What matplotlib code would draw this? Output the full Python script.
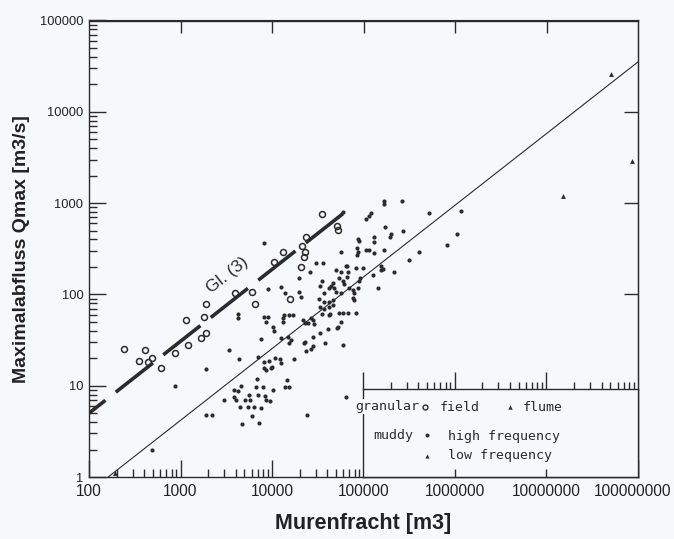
import matplotlib
matplotlib.use("Agg")
import matplotlib.pyplot as plt
import matplotlib.transforms as mtransforms
from matplotlib.ticker import FixedLocator, NullFormatter, FuncFormatter, LogLocator, NullLocator

plt.rcParams['lines.scale_dashes'] = False

# ---------------- data ----------------
field_x = [242, 411, 353, 444, 491, 616, 877, 1158, 1218, 1692, 1824, 1919, 1919,
           3981, 6120, 6600, 15600, 20600, 10400, 13070, 21100, 22800, 22200, 23400,
           35000, 52400, 51000]
field_y = [25, 24.4, 18.5, 18, 20, 15.5, 23, 53, 27.7, 33, 56, 37.5, 78,
           103, 105, 78, 90, 202, 229, 288, 343, 288, 254, 430,
           768, 513, 568]

flume_x = [5.03e7, 8.55e7, 1.53e7]
flume_y = [26000, 2912, 1208]

low_x = [190]
low_y = [1.1]

high_x = [491, 877, 1920, 1920, 2230, 3020, 3430, 4410, 3890, 4200, 3890, 4000, 4640,
          5010, 5680, 4500, 5400, 6280, 7500, 6000, 4750, 7130, 5540, 6950, 8300, 6610,
          7890, 6780, 8510, 9420, 10160, 6950, 8090, 9180, 8090, 8510, 9660, 10690,
          12110, 12420, 7500, 8090, 8950, 8510, 10160, 10420, 13070, 15210, 16830, 13070,
          12420, 14830, 16000, 15210, 17260, 14460, 13750, 15210, 22200, 23350, 26490,
          27870, 27870, 23950, 24560, 27870, 28580, 22770, 33260, 40700, 51050, 41760,
          53700, 59400, 67380, 82450, 37730, 59400, 33260, 41760, 46150, 64070, 4200,
          4200, 8950, 8090, 9910, 19590, 20500, 19590, 21670, 26490, 25830, 30060, 35870,
          34980, 12420, 13750, 56480, 59400, 49780, 56480, 64070, 67380, 82450, 98500,
          155200, 155200, 126600, 215400, 91200, 88930, 53700, 59400, 60920, 69100,
          43910, 46150, 47330, 33260, 36790, 32430, 49780, 56480, 76440, 78400, 78400,
          86720, 143800, 36790, 41760, 46150, 36790, 34980, 42820, 13400, 56480, 22770,
          52360, 76440, 167400, 167400, 263600, 521300, 1169000, 106100, 120400, 114500,
          171700, 270300, 199700, 194700, 129900, 129900, 86720, 88930, 84560, 86720,
          84560, 106100, 114500, 129900, 167400, 404900, 314700, 820700, 1057000, 65700,
          163200, 65700, 41760]
high_y = [2.0, 9.9, 15.1, 4.8, 4.8, 6.9, 24.4, 19.5, 8.9, 8.7, 7.5, 6.9, 9.9,
          6.9, 6.9, 5.8, 5.8, 5.8, 5.7, 4.6, 3.8, 3.9, 7.9, 7.9, 7.7, 9.6,
          9.6, 11.8, 6.9, 6.8, 8.9, 20.5, 18.1, 18.5, 15.5, 14.8, 15.5, 20.0,
          19.5, 17.6, 32.2, 56.1, 56.1, 49.4, 43.6, 39.4, 54.7, 58.9, 58.9, 49.4,
          33.0, 33.9, 31.4, 29.1, 19.5, 11.5, 9.6, 9.6, 29.1, 23.8, 25.1,
          27.0, 33.9, 4.8, 48.2, 52.0, 47.0, 48.2, 37.5, 41.4, 42.5, 58.9,
          62.0, 62.0, 62.0, 62.0, 29.1, 27.7, 72.1, 72.1, 86.0, 7.5, 60.4,
          54.7, 116, 361, 15.9, 105, 92.7, 150, 52.0, 54.7, 174, 218, 218,
          139, 122, 103, 295, 807, 183, 174, 207, 174, 197, 197,
          207, 183, 165, 178, 150, 139, 150, 139, 129, 119,
          125, 132, 119, 125, 103, 88.2, 105, 103, 111, 103, 86.0,
          119, 119, 81.8, 81.8, 75.8, 68.6, 60.4, 60.4, 58.9, 49.4, 29.9,
          43.6, 90.4, 1065, 988, 1065, 787, 828, 677, 787, 730,
          554, 489, 464, 420, 420, 379, 409, 389, 326, 288,
          267, 310, 303, 281, 303, 288, 241, 352, 464, 207,
          192, 155, 119]

# equation lines
muddy_line_x = [162, 1e8]
muddy_line_y = [1, 35200]
gl3_x = [100, 60000]
gl3_y = [5.0, 770]

x_ticks = [1e2, 1e3, 1e4, 1e5, 1e6, 1e7, 1e8]
x_ticklabels = ["100", "1000", "10000", "100000", "1000000", "10000000", "100000000"]
y_ticks = [1, 10, 100, 1000, 10000, 100000]
y_ticklabels = ["1", "10", "100", "1000", "10000", "100000"]

# ---------------- style ----------------
BG = '#f6f9fc'
INK = '#2b2b2b'
W, H = 674, 539

fig = plt.figure(figsize=(W / 100, H / 100), dpi=100, facecolor=BG)
L, R, T, B = 89, 638, 20.5, 477
ax = fig.add_axes([L / W, (H - B) / H, (R - L) / W, (B - T) / H])
ax.set_facecolor(BG)
ax.set_xscale('log')
ax.set_yscale('log')
ax.set_xlim(1e2, 1e8)
ax.set_ylim(1, 1e5)
for s in ax.spines.values():
    s.set_color(INK)
    s.set_linewidth(1.0)

ax.xaxis.set_major_locator(FixedLocator(x_ticks))
ax.xaxis.set_major_formatter(FuncFormatter(lambda v, p: x_ticklabels[x_ticks.index(v)] if v in x_ticks else ""))
ax.xaxis.set_minor_locator(LogLocator(base=10, subs=range(2, 10), numticks=20))
ax.xaxis.set_minor_formatter(NullFormatter())
ax.yaxis.set_major_locator(FixedLocator(y_ticks))
ax.yaxis.set_major_formatter(FuncFormatter(lambda v, p: y_ticklabels[y_ticks.index(v)] if v in y_ticks else ""))
ax.yaxis.set_minor_locator(LogLocator(base=10, subs=range(2, 10), numticks=20))
ax.yaxis.set_minor_formatter(NullFormatter())

ax.tick_params(axis='both', which='both', direction='in', color=INK, width=1.0,
               top=False, right=False)
ax.tick_params(axis='both', which='major', length=12)
ax.tick_params(axis='both', which='minor', length=5.5)
ax.tick_params(axis='x', which='major', labelsize=11.2, pad=5, labelcolor='#222222')
ax.tick_params(axis='y', which='major', labelsize=9.3, pad=4, labelcolor='#222222')
fig.canvas.draw()
xlabs = ax.get_xticklabels()
for lab in xlabs + ax.get_yticklabels():
    lab.set_fontfamily('Liberation Sans')
# nudge the last (rightmost) x tick label slightly left so it stays on the canvas
xlabs[-1].set_transform(xlabs[-1].get_transform() +
                        mtransforms.ScaledTranslation(-4 / 72, 0, fig.dpi_scale_trans))

# top and right ticks
top = ax.secondary_xaxis('top')
top.set_xscale('log')
top.xaxis.set_major_locator(FixedLocator([1e3, 1e4, 1e5, 1e6, 1e7]))
top.xaxis.set_minor_locator(NullLocator())
top.xaxis.set_major_formatter(NullFormatter())
top.tick_params(direction='in', length=9, width=1.0, color=INK)
top.spines['top'].set_color(INK)
right = ax.secondary_yaxis('right')
right.yaxis.set_major_locator(FixedLocator([100, 1000, 10000]))
right.yaxis.set_minor_locator(NullLocator())
right.yaxis.set_major_formatter(NullFormatter())
right.tick_params(direction='in', length=10, width=1.0, color=INK)
right.spines['right'].set_color(INK)

# lines
ax.plot(muddy_line_x, muddy_line_y, color=INK, lw=0.8, zorder=2)
ax.plot(gl3_x, gl3_y, color=INK, lw=2.6, solid_capstyle='butt',
        dash_capstyle='butt', ls=(19, (34, 9.5)), zorder=2)
ax.text(3260, 163, "Gl. (3)", rotation=38, rotation_mode='anchor', ha='center', va='center',
        fontsize=12.5, family='Liberation Sans', color=INK)

# points
ax.plot(high_x, high_y, ls='none', marker='o', ms=3.0, color=INK, mew=0, zorder=3)
ax.plot(field_x, field_y, ls='none', marker='o', ms=4.3, mfc='none', mec=INK, mew=1.1, zorder=3)
ax.plot(flume_x, flume_y, ls='none', marker='^', ms=3.5, color=INK, mew=0, zorder=3)
ax.plot(low_x, low_y, ls='none', marker='^', ms=3.5, color=INK, mew=0, zorder=3)

ax.set_xlabel("Murenfracht [m3]", fontsize=15.5, fontweight='bold', family='Liberation Sans',
              color='#222222', labelpad=10)
ax.set_ylabel("Maximalabfluss Qmax [m3/s]", fontsize=14, fontweight='bold', family='Liberation Sans',
              color='#222222', labelpad=7.5)

# legend box (inset with its own log ticks)
LX0, LY0 = 363, 389
lax = fig.add_axes([LX0 / W, (H - B) / H, (R - LX0) / W, (B - LY0) / H])
lax.set_facecolor(BG)
lax.set_xscale('log')
lax.set_xlim(1e5, 1e8)
lax.set_ylim(0, 1)
lax.set_yticks([])
for s in lax.spines.values():
    s.set_color(INK)
    s.set_linewidth(1.0)
lax.xaxis.set_major_locator(FixedLocator([1e5, 1e6, 1e7]))
lax.xaxis.set_minor_locator(LogLocator(base=10, subs=range(2, 10), numticks=20))
lax.xaxis.set_major_formatter(NullFormatter())
lax.xaxis.set_minor_formatter(NullFormatter())
lax.tick_params(axis='x', which='both', top=True, bottom=False, direction='out', color=INK, width=1.0)
lax.tick_params(axis='x', which='major', length=12)
lax.tick_params(axis='x', which='minor', length=5)
bot = lax.secondary_xaxis('bottom')
bot.xaxis.set_major_locator(FixedLocator([1e6, 1e7]))
bot.xaxis.set_minor_locator(NullLocator())
bot.xaxis.set_major_formatter(NullFormatter())
bot.tick_params(direction='in', length=6, width=1.0, color=INK)

mono = dict(family='DejaVu Sans Mono', fontsize=9.5, color=INK, va='center', transform=lax.transAxes)
lax.text(-0.029, 0.80, "granular", bbox=dict(fc=BG, ec='none', pad=0.5), clip_on=False, **mono)
lax.plot([0.225], [0.80], marker='o', ms=3.5, mfc='none', mec=INK, mew=1.0, transform=lax.transAxes)
lax.text(0.28, 0.79, "field", **mono)
lax.plot([0.535], [0.80], marker='^', ms=3.2, color=INK, mew=0, transform=lax.transAxes)
lax.text(0.582, 0.79, "flume", **mono)
lax.text(0.036, 0.475, "muddy", **mono)
lax.plot([0.233], [0.475], marker='o', ms=2.8, color=INK, mew=0, transform=lax.transAxes)
lax.text(0.309, 0.465, "high frequency", **mono)
lax.plot([0.233], [0.24], marker='^', ms=3.0, color=INK, mew=0, transform=lax.transAxes)
lax.text(0.309, 0.24, "low frequency", **mono)

fig.savefig("out.png", dpi=100, facecolor=BG)
